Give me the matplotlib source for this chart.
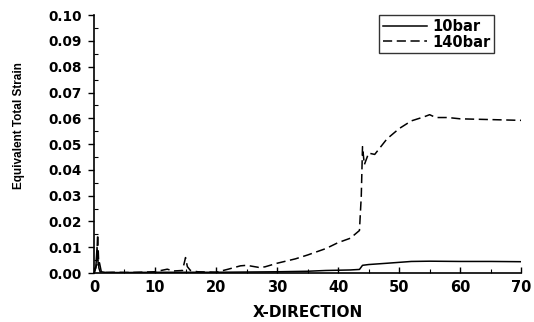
import matplotlib
matplotlib.use("Agg")
import matplotlib.pyplot as plt
from matplotlib.ticker import MultipleLocator

# 10 bar (solid)
x_10 = [0, 0.3, 0.5, 0.7, 0.9, 1.2, 2, 5, 10, 15, 20, 25, 30, 35, 38, 42, 43.5,
        44, 45, 48, 52, 55, 60, 65, 70]
y_10 = [0.0, 0.002, 0.010, 0.003, 0.004, 0.0005, 0.0002, 0.0002, 0.0003, 0.0003,
        0.0003, 0.0004, 0.0005, 0.0007, 0.001, 0.0012, 0.0014,
        0.0030, 0.0033, 0.0038, 0.0045, 0.0046, 0.0045, 0.0045, 0.0044]

# 140 bar (dashed)
x_140 = [0, 0.4, 0.6, 0.8, 1.0, 1.4, 3, 6, 10, 12, 13, 14.5, 15, 15.3, 15.8, 17,
         20, 22, 24, 25, 27, 28, 30, 33, 35, 38, 40, 42, 43.5, 43.8, 44, 44.3,
         45, 46, 48, 50, 52, 54, 55, 56, 58, 60, 65, 70]
y_140 = [0.0, 0.003, 0.015, 0.002, 0.0005, 0.0002, 0.0003, 0.0002, 0.0005, 0.0015,
         0.0008, 0.001, 0.006, 0.0025, 0.001, 0.0005, 0.0003, 0.0015, 0.0028, 0.003,
         0.0022, 0.0024, 0.0038, 0.0055, 0.007, 0.0095, 0.0118, 0.0135, 0.0165,
         0.030, 0.049, 0.042, 0.0465, 0.046, 0.052, 0.056, 0.059, 0.0605, 0.0614,
         0.0603, 0.0603, 0.0598, 0.0595, 0.0592]

plt.rcParams["font.family"] = ["DejaVu Sans"]

fig = plt.figure(figsize=(5.34, 3.22), dpi=100, facecolor="white")
ax = fig.add_axes([0.176, 0.152, 0.800, 0.801])

ax.plot(x_10, y_10, color="black", lw=1.1, label="10bar")
ax.plot(x_140, y_140, color="black", lw=1.1, ls=(0, (6, 3)), label="140bar")

ax.set_xlim(0, 70)
ax.set_ylim(0, 0.10)
ax.xaxis.set_major_locator(MultipleLocator(10))
ax.xaxis.set_minor_locator(MultipleLocator(5))
ax.yaxis.set_major_locator(MultipleLocator(0.01))
ax.yaxis.set_minor_locator(MultipleLocator(0.005))
ax.yaxis.set_major_formatter(plt.FormatStrFormatter("%.2f"))

for side in ["top", "right"]:
    ax.spines[side].set_visible(False)
for side in ["left", "bottom"]:
    ax.spines[side].set_linewidth(1.2)

ax.tick_params(axis="y", which="major", direction="out", length=4, width=1, pad=5)
ax.tick_params(axis="y", which="minor", direction="in", length=3, width=0.8)
ax.tick_params(axis="x", which="major", direction="in", length=4, width=1, pad=5)
ax.tick_params(axis="x", which="minor", direction="in", length=3, width=0.8)
for lbl in ax.get_yticklabels():
    lbl.set_fontweight("bold")
    lbl.set_fontsize(9.8)
for lbl in ax.get_xticklabels():
    lbl.set_fontweight("bold")
    lbl.set_fontsize(10.5)

ax.set_xlabel("X-DIRECTION", fontsize=11, fontweight="bold")
ax.xaxis.set_label_coords(0.50, -0.125)
ax.set_ylabel("Equivalent Total Strain", fontsize=8.5, fontweight="bold",
              family="Liberation Sans")
ax.yaxis.set_label_coords(-0.162, 0.57)

leg = ax.legend(loc="upper right", bbox_to_anchor=(0.937, 1.0),
                prop={"size": 10.5, "weight": "bold"},
                frameon=True, fancybox=False, edgecolor="black",
                handlelength=3.0, handletextpad=0.4, borderpad=0.25,
                labelspacing=0.05, borderaxespad=0)
leg.get_frame().set_linewidth(1.0)

fig.savefig("out.png", dpi=100)
